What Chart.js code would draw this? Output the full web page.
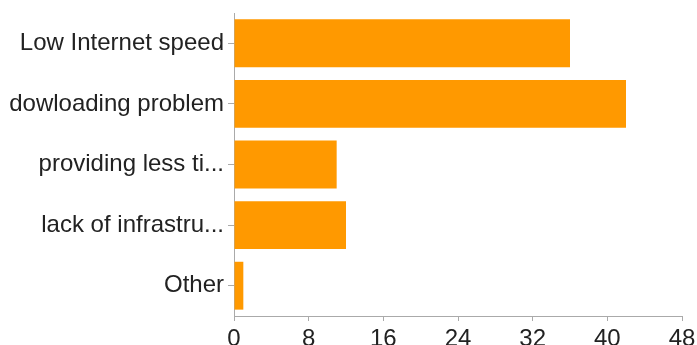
<!DOCTYPE html>
<html>
<head>
<meta charset="utf-8">
<script src="https://cdn.jsdelivr.net/npm/chart.js@4"></script>
<style>
  html, body { margin: 0; padding: 0; background: #fff; overflow: hidden; }
  #wrap { width: 697px; height: 360px; position: relative; }
</style>
</head>
<body>
<div id="wrap"><canvas id="c"></canvas></div>
<script>
const categories = ["Low Internet speed", "dowloading problem", "providing less ti...", "lack of infrastru...", "Other"];
const counts = [36, 42, 11, 12, 1];
const xTicks = [0, 8, 16, 24, 32, 40, 48];

const FONT = { family: "'Liberation Sans', Arial, Helvetica, sans-serif", size: 24 };

new Chart(document.getElementById('c'), {
  type: 'bar',
  data: {
    labels: categories,
    datasets: [{
      data: counts,
      backgroundColor: '#FF9900',
      borderWidth: 0,
      barPercentage: 0.79,
      categoryPercentage: 1.0
    }]
  },
  options: {
    indexAxis: 'y',
    responsive: true,
    maintainAspectRatio: false,
    animation: false,
    layout: { padding: { top: 13, right: 15, left: 0, bottom: 0 } },
    plugins: { legend: { display: false }, tooltip: { enabled: false } },
    scales: {
      x: {
        min: 0, max: 48,
        afterBuildTicks: (scale) => { scale.ticks = xTicks.map(v => ({ value: v })); },
        afterFit: (scale) => { scale.height = 44; scale.paddingLeft = 0; scale.paddingRight = 0; },
        ticks: { color: '#222', font: FONT, padding: 4, maxRotation: 0 },
        grid: { drawOnChartArea: false, drawTicks: true, tickLength: 5, color: '#aaa' },
        border: { color: '#aaa', width: 1 }
      },
      y: {
        afterFit: (scale) => { scale.width = 234; scale.paddingTop = 0; scale.paddingBottom = 0; },
        ticks: { color: '#222', font: FONT, padding: 4 },
        grid: { drawOnChartArea: false, drawTicks: true, tickLength: 6, color: '#aaa', offset: false },
        border: { color: '#aaa', width: 1 }
      }
    }
  }
});
</script>
</body>
</html>
